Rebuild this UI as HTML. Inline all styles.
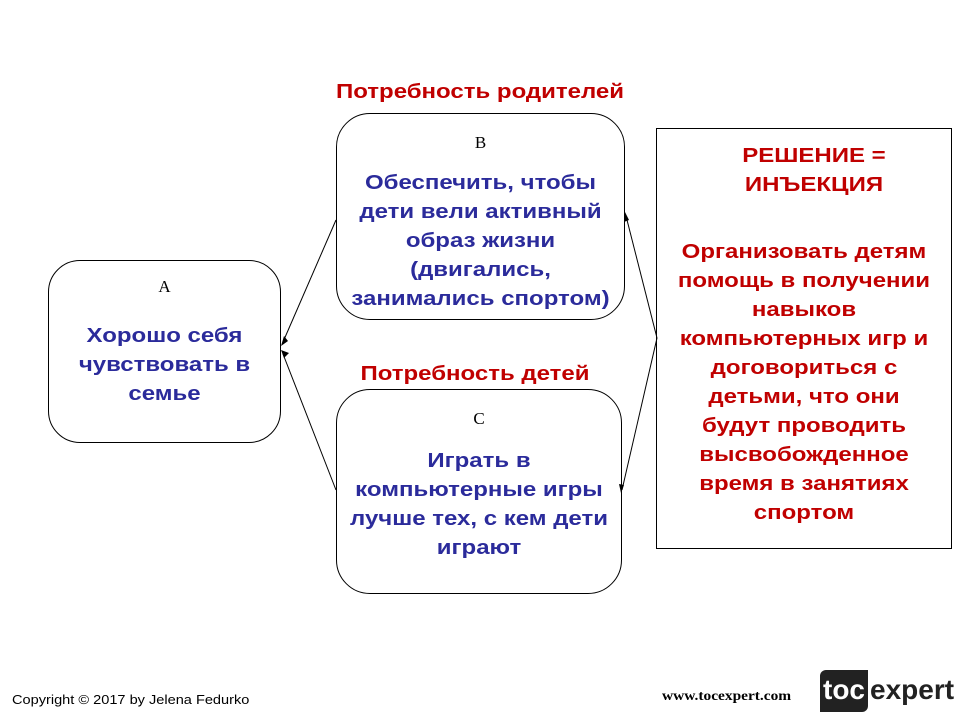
<!DOCTYPE html>
<html><head><meta charset="utf-8"><style>
body{margin:0;width:960px;height:720px;background:#fff;position:relative;font-family:"Liberation Sans",sans-serif;overflow:hidden}
.b{position:absolute;border:1px solid #000;box-sizing:border-box}
.t{position:absolute;text-align:center;font-weight:bold;font-size:20px;line-height:29px;transform:scaleX(1.2)}
.blue{color:#2b2b9b}.red{color:#c00000}
.l{position:absolute;font-family:"Liberation Serif",serif;font-size:17px;text-align:center}
</style></head><body>
<div class="b" style="left:48px;top:260px;width:233px;height:183px;border-radius:32px"></div>
<div class="b" style="left:336px;top:113px;width:289px;height:207px;border-radius:34px"></div>
<div class="b" style="left:336px;top:389px;width:286px;height:205px;border-radius:34px"></div>
<div class="b" style="left:656px;top:128px;width:296px;height:421px"></div>
<svg width="960" height="720" style="position:absolute;left:0;top:0">
<g stroke="#000" stroke-width="1" fill="none">
<line x1="336" y1="220" x2="283" y2="342"/><line x1="336" y1="490" x2="283" y2="354"/>
<line x1="657" y1="338" x2="626" y2="216"/><line x1="657" y1="338" x2="622" y2="490"/>
</g>
<g fill="#000">
<polygon points="281,346 284,336 288,341"/><polygon points="281,350 289,353 284,358"/>
<polygon points="625,212 624,222 629,220"/><polygon points="621,493 619,484 624,485"/>
</g>
</svg>
<div class="l" style="left:48px;top:277px;width:233px">A</div>
<div class="l" style="left:336px;top:133px;width:289px">B</div>
<div class="l" style="left:336px;top:409px;width:286px">C</div>
<div class="t red" style="left:300px;top:78px;width:360px">Потребность родителей</div>
<div class="t red" style="left:300px;top:360px;width:350px">Потребность детей</div>
<div class="t blue" style="left:48px;top:322px;width:233px">Хорошо себя<br>чувствовать в<br>семье</div>
<div class="t blue" style="left:336px;top:169px;width:289px">Обеспечить, чтобы<br>дети вели активный<br>образ жизни<br>(двигались,<br>занимались спортом)</div>
<div class="t blue" style="left:336px;top:447px;width:286px">Играть в<br>компьютерные игры<br>лучше тех, с кем дети<br>играют</div>
<div class="t red" style="left:664px;top:142px;width:300px">РЕШЕНИЕ =<br>ИНЪЕКЦИЯ</div>
<div class="t red" style="left:656px;top:238px;width:296px">Организовать детям<br>помощь в получении<br>навыков<br>компьютерных игр и<br>договориться с<br>детьми, что они<br>будут проводить<br>высвобожденное<br>время в занятиях<br>спортом</div>
<div style="position:absolute;left:12px;top:692px;font-size:13px;transform:scaleX(1.12);transform-origin:left">Copyright © 2017 by Jelena Fedurko</div>
<div style="position:absolute;left:662px;top:689px;font-family:'Liberation Serif',serif;font-weight:bold;font-size:14px;transform:scaleX(1.1);transform-origin:left">www.tocexpert.com</div>
<div style="position:absolute;left:820px;top:670px;width:48px;height:42px;background:#222;border-radius:6px 0 6px 0;color:#fff;font-weight:bold;font-size:28px;line-height:40px;text-align:center">toc</div>
<div style="position:absolute;left:870px;top:670px;color:#222;font-weight:bold;font-size:28px;line-height:40px">expert</div>
</body></html>
